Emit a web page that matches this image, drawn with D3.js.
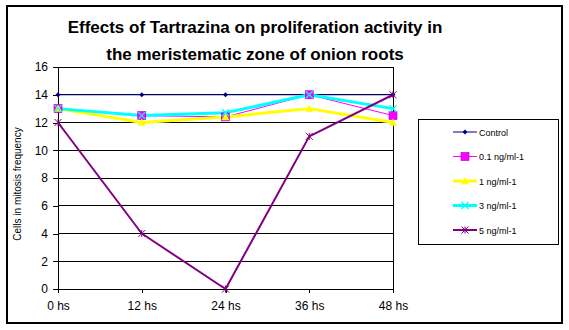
<!DOCTYPE html>
<html>
<head>
<meta charset="utf-8">
<script src="https://cdn.jsdelivr.net/npm/d3@7"></script>
<style>
  html, body { margin: 0; padding: 0; background: #fff; }
  svg { display: block; font-family: Arial, "Liberation Sans", sans-serif; }
</style>
</head>
<body>
<svg id="chart" width="569" height="330"></svg>
<script>
// Time points (hours after exposure)
const categories = ["0 hs", "12 hs", "24 hs", "36 hs", "48 hs"];

// Cells in mitosis frequency per treatment
const control = [14, 14, 14, 14, 14];
const dose01  = [13, 12.5, 12.4, 14, 12.5];
const dose1   = [13, 12, 12.4, 13, 12];
const dose3   = [13, 12.5, 12.7, 14, 13];
const dose5   = [12, 4, 0, 11, 14];

const seriesNames = ["Control", "0.1 ng/ml-1", "1 ng/ml-1", "3 ng/ml-1", "5 ng/ml-1"];
const yTicks = [0, 2, 4, 6, 8, 10, 12, 14, 16];

const series = [
  { name: seriesNames[0], values: control, color: "#000080", width: 1,   marker: "diamond" },
  { name: seriesNames[1], values: dose01,  color: "#FF00FF", width: 1,   marker: "square" },
  { name: seriesNames[2], values: dose1,   color: "#FFFF00", width: 3,   marker: "triangle" },
  { name: seriesNames[3], values: dose3,   color: "#00FFFF", width: 3,   marker: "cross" },
  { name: seriesNames[4], values: dose5,   color: "#800080", width: 2,   marker: "star" }
];

const svg = d3.select("#chart");
const plot = { left: 58, right: 393, top: 67, bottom: 289 };

const x = d3.scalePoint().domain(categories).range([plot.left, plot.right]);
const y = d3.scaleLinear().domain([0, 16]).range([plot.bottom, plot.top]);

// Chart frame
svg.append("rect")
  .attr("x", 7).attr("y", 6).attr("width", 555).attr("height", 317)
  .attr("fill", "#fff").attr("stroke", "#000").attr("stroke-width", 2);

// Title
const title = svg.append("text")
  .attr("text-anchor", "middle")
  .attr("font-size", 17).attr("font-weight", "bold").attr("fill", "#000");
title.append("tspan").attr("x", 255).attr("y", 33).text("Effects of Tartrazina on proliferation activity in");
title.append("tspan").attr("x", 255).attr("y", 60).text("the meristematic zone of onion roots");

// Horizontal gridlines
svg.append("g").selectAll("line").data(yTicks.filter(d => d > 0)).join("line")
  .attr("x1", plot.left).attr("x2", plot.right)
  .attr("y1", d => y(d)).attr("y2", d => y(d))
  .attr("stroke", "#000").attr("stroke-width", 1)
  .attr("shape-rendering", "crispEdges");

// Right border of plot area
svg.append("line")
  .attr("x1", plot.right).attr("x2", plot.right)
  .attr("y1", plot.top).attr("y2", plot.bottom)
  .attr("stroke", "#000").attr("shape-rendering", "crispEdges");

// Y axis
const yAxis = svg.append("g")
  .attr("transform", `translate(${plot.left},0)`)
  .call(d3.axisLeft(y).tickValues(yTicks).tickSize(5).tickPadding(5));
yAxis.select(".domain").attr("stroke", "#000").attr("shape-rendering", "crispEdges");
yAxis.selectAll(".tick line").attr("stroke", "#000").attr("shape-rendering", "crispEdges");
yAxis.selectAll("text").attr("font-size", 12).attr("fill", "#000")
  .attr("font-family", "Arial, 'Liberation Sans', sans-serif");

// X axis
const xAxis = svg.append("g")
  .attr("transform", `translate(0,${plot.bottom})`)
  .call(d3.axisBottom(x).tickSizeInner(4).tickSizeOuter(0).tickPadding(8));
xAxis.select(".domain").attr("stroke", "#000").attr("shape-rendering", "crispEdges");
xAxis.selectAll(".tick line").attr("stroke", "#000").attr("shape-rendering", "crispEdges");
xAxis.selectAll("text").attr("font-size", 12).attr("fill", "#000")
  .attr("font-family", "Arial, 'Liberation Sans', sans-serif");

// Y axis title
svg.append("text")
  .attr("transform", `translate(21,${(plot.top + plot.bottom) / 2 + 6}) rotate(-90)`)
  .attr("text-anchor", "middle").attr("font-size", 10).attr("fill", "#000")
  .text("Cells in mitosis frequency");

// Marker shapes
function drawMarker(g, type, color, size) {
  const s = size;
  if (type === "diamond") {
    g.append("path").attr("d", `M0,${-s}L${s},0L0,${s}L${-s},0Z`).attr("fill", color);
  } else if (type === "square") {
    g.append("rect").attr("x", -s).attr("y", -s).attr("width", 2 * s).attr("height", 2 * s)
      .attr("fill", color).attr("stroke", "#9900cc").attr("stroke-width", 0.6);
  } else if (type === "triangle") {
    g.append("path").attr("d", `M0,${-s}L${s},${s * 0.8}L${-s},${s * 0.8}Z`).attr("fill", color);
  } else if (type === "cross") {
    g.append("path").attr("d", `M${-s},${-s}L${s},${s}M${-s},${s}L${s},${-s}`)
      .attr("stroke", color).attr("stroke-width", 1.2).attr("fill", "none");
  } else if (type === "star") {
    g.append("path").attr("d", `M${-s},${-s}L${s},${s}M${-s},${s}L${s},${-s}M0,${-s}L0,${s}`)
      .attr("stroke", color).attr("stroke-width", 1).attr("fill", "none");
  }
}
const markerSize = { diamond: 2.5, square: 4, triangle: 4, cross: 3.5, star: 3.5 };

const line = d3.line().x((d, i) => x(categories[i])).y(d => y(d));

// Lines first, markers on top
svg.append("g").selectAll("path").data(series).join("path")
  .attr("d", d => line(d.values))
  .attr("fill", "none")
  .attr("stroke", d => d.color)
  .attr("stroke-width", d => d.width)
  .attr("stroke-linejoin", "round");

series.forEach(s => {
  s.values.forEach((v, i) => {
    const g = svg.append("g").attr("transform", `translate(${x(categories[i])},${y(v)})`);
    drawMarker(g, s.marker, s.color, markerSize[s.marker]);
  });
});

// Legend
const legend = { x: 418, y: 119, w: 140, h: 125 };
svg.append("rect")
  .attr("x", legend.x + 0.5).attr("y", legend.y + 0.5)
  .attr("width", legend.w).attr("height", legend.h)
  .attr("fill", "#fff").attr("stroke", "#000").attr("stroke-width", 1);

const rowY = d3.scalePoint().domain(seriesNames).range([132, 230]);
series.forEach(s => {
  const cy = rowY(s.name);
  svg.append("line")
    .attr("x1", 453).attr("x2", 477).attr("y1", cy).attr("y2", cy)
    .attr("stroke", s.color).attr("stroke-width", s.width);
  const g = svg.append("g").attr("transform", `translate(465,${cy})`);
  drawMarker(g, s.marker, s.color, markerSize[s.marker]);
  svg.append("text")
    .attr("x", 479).attr("y", cy + 3.5)
    .attr("font-size", 9).attr("fill", "#000")
    .text(s.name);
});
</script>
</body>
</html>
